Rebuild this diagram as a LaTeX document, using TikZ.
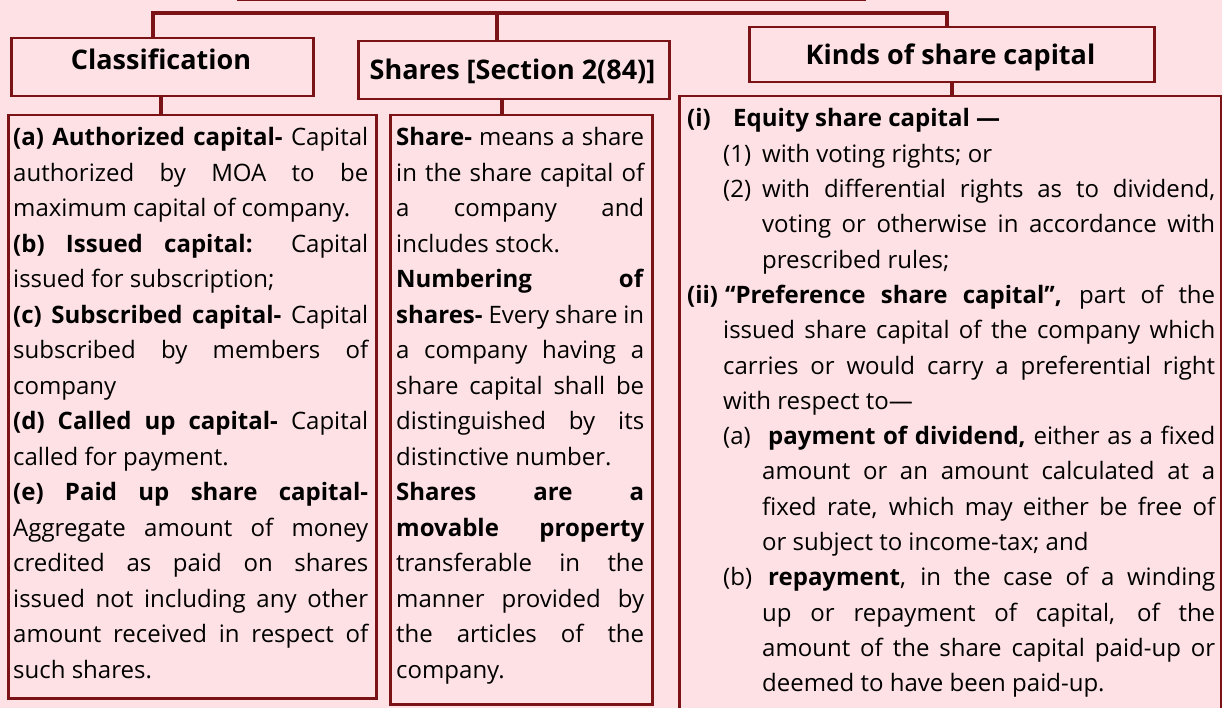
\documentclass[tikz,border=0pt]{standalone}
\usepackage{fontspec}
\setmainfont{Open Sans}
\definecolor{bgpink}{RGB}{254,225,228}
\definecolor{maroon}{RGB}{122,18,22}
\newcommand\LabJ[4]{\hbox to\hsize{\hskip#1\relax\makebox[\dimexpr#3-#1\relax][l]{#2}\makebox[\dimexpr\hsize-#3\relax][s]{#4}}}
\newcommand\LabL[4]{\hbox to\hsize{\hskip#1\relax\makebox[\dimexpr#3-#1\relax][l]{#2}#4\hfil}}
\newcommand\Jl[1]{\hbox to\hsize{\makebox[\hsize][s]{#1}}}
\newcommand\Ll[1]{\hbox to\hsize{#1\hfil}}
\tikzset{
  hdrbox/.style={draw=maroon, line width=2.5pt, fill=bgpink, rectangle, inner sep=0pt, anchor=north west},
  hdrtext/.style={font=\fontsize{27}{30}\selectfont\bfseries, anchor=base, inner sep=0pt},
  bodytext/.style={anchor=base west, inner sep=0pt, font=\fontsize{24}{35.5}\selectfont},
  conn/.style={draw=maroon, line width=4pt},
}
\begin{document}
\begin{tikzpicture}[x=1pt,y=-1pt]
\useasboundingbox (0,0) rectangle (1222,708);
\fill[bgpink] (0,0) rectangle (1222,708);
\clip (0,0) rectangle (1222,708);
% top box (cut off)
\node[hdrbox, minimum width=626pt, minimum height=50pt, anchor=south west] (top) at (237,1.5) {};
% headers
\node[hdrbox, minimum width=302pt, minimum height=58pt] (cls) at (10,37) {};
\node[hdrtext] (clsT) at (161,70) {Classification};
\node[hdrbox, minimum width=311pt, minimum height=58pt] (shr) at (357,40) {};
\node[hdrtext] (shrT) at (512.5,80) {Shares [Section 2(84)]};
\node[hdrbox, minimum width=405pt, minimum height=55pt] (knd) at (748,26) {};
\node[hdrtext] (kndT) at (950.5,65) {Kinds of share capital};
% content boxes
\node[hdrbox, minimum width=368pt, minimum height=583pt] (c1) at (7,114) {};
\node[hdrbox, minimum width=262pt, minimum height=589pt] (c2) at (389,114) {};
\node[hdrbox, minimum width=542pt, minimum height=630pt] (c3) at (678,95) {};
% bus connectors
\coordinate (b1) at (153,13);
\coordinate (b2) at (497,13);
\coordinate (b3) at (947,13);
\draw[conn] (b1 |- cls.north) -- (b1) -- (b3) -- (b3 |- knd.north);
\draw[conn] (b2) -- (b2 |- shr.north);
\coordinate (d1) at (161,0);
\coordinate (d2) at (502,0);
\coordinate (d3) at (952,0);
\draw[conn] (d1 |- cls.south) -- (d1 |- c1.north);
\draw[conn] (d2 |- shr.south) -- (d2 |- c2.north);
\draw[conn] (d3 |- knd.south) -- (d3 |- c3.north);
% texts
\node[bodytext] (t1) at (13,146) {\parbox[t]{355pt}{\fontsize{24}{35.5}\selectfont
\Jl{\textbf{(a) Authorized capital-} Capital}
\Jl{authorized by MOA to be}
\Ll{maximum capital of company.}
\Jl{\textbf{(b) Issued capital:} Capital}
\Ll{issued for subscription;}
\Jl{\textbf{(c) Subscribed capital-} Capital}
\Jl{subscribed by members of}
\Ll{company}
\Jl{\textbf{(d) Called up capital-} Capital}
\Ll{called for payment.}
\Jl{\textbf{(e) Paid up share capital-}}
\Jl{Aggregate amount of money}
\Jl{credited as paid on shares}
\Jl{issued not including any other}
\Jl{amount received in respect of}
\Ll{such shares.}}};
\node[bodytext] (t2) at (396,146) {\parbox[t]{248pt}{\fontsize{24}{35.5}\selectfont
\Jl{\textbf{Share-} means a share}
\Jl{in the share capital of}
\Jl{a company and}
\Ll{includes stock.}
\Jl{\textbf{Numbering of}}
\Jl{\textbf{shares-} Every share in}
\Jl{a company having a}
\Jl{share capital shall be}
\Jl{distinguished by its}
\Ll{distinctive number.}
\Jl{\textbf{Shares are a}}
\Jl{\textbf{movable property}}
\Jl{transferable in the}
\Jl{manner provided by}
\Jl{the articles of the}
\Ll{company.}}};
\node[bodytext] (t3) at (687,127) {\parbox[t]{528pt}{\fontsize{24}{35.3}\selectfont
\LabL{0pt}{\bfseries(i)}{46pt}{\bfseries Equity share capital —}
\LabL{36pt}{(1)}{75pt}{with voting rights; or}
\LabJ{36pt}{(2)}{75pt}{with differential rights as to dividend,}
\LabJ{75pt}{}{75pt}{voting or otherwise in accordance with}
\LabL{75pt}{}{75pt}{prescribed rules;}
\LabJ{0pt}{\bfseries(ii)}{38pt}{\textbf{‘‘Preference share capital’’,} part of the}
\LabJ{36pt}{}{36pt}{issued share capital of the company which}
\LabJ{36pt}{}{36pt}{carries or would carry a preferential right}
\LabL{36pt}{}{36pt}{with respect to—}
\LabJ{36pt}{(a)}{81pt}{\textbf{payment of dividend,} either as a fixed}
\LabJ{75pt}{}{75pt}{amount or an amount calculated at a}
\LabJ{75pt}{}{75pt}{fixed rate, which may either be free of}
\LabL{75pt}{}{75pt}{or subject to income-tax; and}
\LabJ{36pt}{(b)}{81pt}{\textbf{repayment}, in the case of a winding}
\LabJ{75pt}{}{75pt}{up or repayment of capital, of the}
\LabJ{75pt}{}{75pt}{amount of the share capital paid-up or}
\LabL{75pt}{}{75pt}{deemed to have been paid-up.}}};
\end{tikzpicture}
\end{document}
